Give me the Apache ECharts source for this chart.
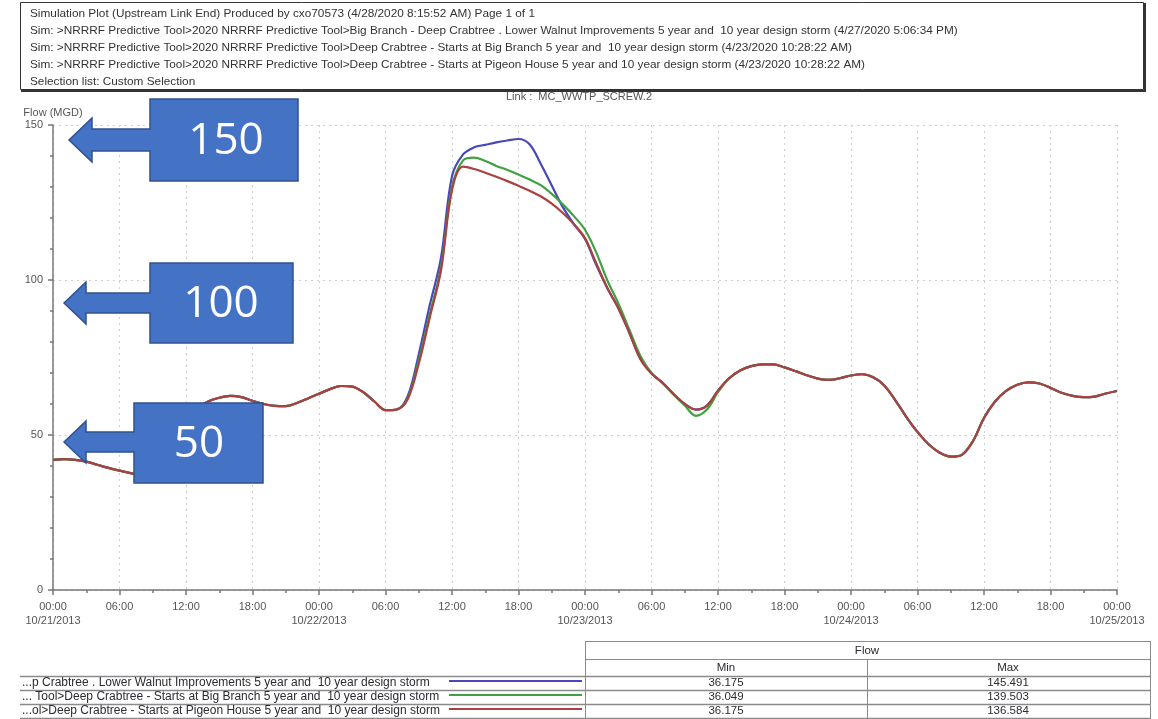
<!DOCTYPE html>
<html>
<head>
<meta charset="utf-8">
<script src="https://cdn.jsdelivr.net/npm/echarts@6/dist/echarts.min.js"></script>
<style>
  html, body { margin: 0; padding: 0; background: #ffffff; }
  #chart { width: 1158px; height: 719px; }
</style>
</head>
<body>
<div id="chart"></div>
<script>
// ---- report header ----
const headerLines = [
  'Simulation Plot (Upstream Link End) Produced by cxo70573 (4/28/2020 8:15:52 AM) Page 1 of 1',
  'Sim: >NRRRF Predictive Tool>2020 NRRRF Predictive Tool>Big Branch - Deep Crabtree . Lower Walnut Improvements 5 year and  10 year design storm (4/27/2020 5:06:34 PM)',
  'Sim: >NRRRF Predictive Tool>2020 NRRRF Predictive Tool>Deep Crabtree - Starts at Big Branch 5 year and  10 year design storm (4/23/2020 10:28:22 AM)',
  'Sim: >NRRRF Predictive Tool>2020 NRRRF Predictive Tool>Deep Crabtree - Starts at Pigeon House 5 year and 10 year design storm (4/23/2020 10:28:22 AM)',
  'Selection list: Custom Selection'
];
const linkTitle = 'Link :  MC_WWTP_SCREW.2';
const yAxisName = 'Flow (MGD)';

// ---- axis tick labels ----
const hourLabels = ['00:00', '06:00', '12:00', '18:00'];
const dayLabels = ['10/21/2013', '10/22/2013', '10/23/2013', '10/24/2013', '10/25/2013'];

// ---- series (hourly flow in MGD, 10/21/2013 00:00 through 10/25/2013 00:00) ----
const seriesNames = [
  '...p Crabtree . Lower Walnut Improvements 5 year and  10 year design storm',
  '... Tool>Deep Crabtree - Starts at Big Branch 5 year and  10 year design storm',
  '...ol>Deep Crabtree - Starts at Pigeon House 5 year and  10 year design storm'
];
const seriesColors = ['#4848bc', '#3ea23e', '#aa4040'];

const lowerWalnut = [
  42.0, 42.2, 42.0, 41.4, 40.4, 39.4, 38.5, 37.7, 36.8, 36.175,
  38.5, 45.0, 53.0, 58.5, 60.8, 62.0, 62.6, 62.2, 61.0, 60.0,
  59.4, 59.3, 60.3, 61.8, 63.3, 64.8, 65.8, 65.6, 63.8, 60.8,
  58.0, 58.2, 62.5, 76.0, 92.0, 107.0, 133.5, 140.5, 142.8, 143.6,
  144.4, 145.0, 145.491, 143.8, 137.5, 130.5, 123.5, 118.0, 113.2, 105.0,
  97.5, 91.0, 83.0, 74.5, 69.8, 66.8, 63.2, 60.0, 58.2, 59.5,
  64.3, 68.3, 70.8, 72.2, 72.8, 72.8, 71.8, 70.6, 69.3, 68.2,
  67.8, 68.3, 69.2, 69.6, 68.6, 66.0, 61.2, 55.8, 51.0, 47.0,
  44.3, 43.0, 43.6, 48.0, 55.5, 60.8, 64.2, 66.2, 67.0, 66.6,
  65.2, 63.6, 62.6, 62.2, 62.4, 63.4, 64.2
];
const bigBranch = [
  42.0, 42.2, 42.0, 41.4, 40.4, 39.4, 38.5, 37.7, 36.7, 36.049,
  38.4, 45.0, 53.0, 58.5, 60.8, 62.0, 62.6, 62.2, 61.0, 60.0,
  59.4, 59.3, 60.3, 61.8, 63.3, 64.8, 65.8, 65.6, 63.8, 60.8,
  58.0, 58.2, 61.8, 74.0, 89.0, 104.0, 130.0, 138.6, 139.503, 138.4,
  136.8, 135.5, 134.0, 132.4, 130.6, 127.8, 124.4, 120.6, 116.2, 109.0,
  100.0, 92.5, 84.0, 75.5, 70.0, 66.8, 63.0, 59.5, 56.2, 58.2,
  63.8, 68.2, 70.8, 72.2, 72.8, 72.8, 71.8, 70.6, 69.3, 68.2,
  67.8, 68.3, 69.2, 69.6, 68.6, 66.0, 61.2, 55.8, 51.0, 47.0,
  44.3, 43.0, 43.6, 48.0, 55.5, 60.8, 64.2, 66.2, 67.0, 66.6,
  65.2, 63.6, 62.6, 62.2, 62.4, 63.4, 64.2
];
const pigeonHouse = [
  42.0, 42.2, 42.0, 41.4, 40.4, 39.4, 38.5, 37.7, 36.8, 36.175,
  38.5, 45.0, 53.0, 58.5, 60.8, 62.0, 62.6, 62.2, 61.0, 60.0,
  59.4, 59.3, 60.3, 61.8, 63.3, 64.8, 65.8, 65.6, 63.8, 60.8,
  58.0, 58.2, 61.5, 73.0, 88.0, 103.0, 129.0, 136.584, 135.8, 134.6,
  133.3, 131.9, 130.4, 128.8, 127.0, 124.6, 121.6, 118.0, 113.5, 105.5,
  97.5, 91.0, 83.0, 74.5, 69.8, 66.8, 63.2, 60.0, 58.2, 59.5,
  64.3, 68.3, 70.8, 72.2, 72.8, 72.8, 71.8, 70.6, 69.3, 68.2,
  67.8, 68.3, 69.2, 69.6, 68.6, 66.0, 61.2, 55.8, 51.0, 47.0,
  44.3, 43.0, 43.6, 48.0, 55.5, 60.8, 64.2, 66.2, 67.0, 66.6,
  65.2, 63.6, 62.6, 62.2, 62.4, 63.4, 64.2
];
const seriesValues = [lowerWalnut, bigBranch, pigeonHouse];

// ---- annotation callouts ----
const calloutTexts = ['150', '100', '50'];

// ---------------------------------------------------------------------------
const FONT = '"Liberation Sans", "DejaVu Sans", sans-serif';
const TEXT_DARK = '#2b2b33';
const AXIS_GREY = '#777777';

const graphics = [];

// header frame with heavier bottom/right edge
graphics.push({
  type: 'rect', shape: { x: 20.5, y: 2.5, width: 1123, height: 87 },
  style: { fill: '#ffffff', stroke: '#333333', lineWidth: 1 }, z: 1
});
graphics.push({
  type: 'polyline', shape: { points: [[21, 91], [1145, 91], [1145, 3]] },
  style: { stroke: '#333333', lineWidth: 2, fill: null }, z: 1
});
headerLines.forEach((t, i) => {
  graphics.push({
    type: 'text', z: 2,
    style: { text: t, x: 30, y: 14 + i * 17, font: '11.8px ' + FONT, fill: '#333333',
             textAlign: 'left', textVerticalAlign: 'middle' }
  });
});

// left-pointing arrow callouts
function calloutPoints(tipX, tipY, headX, headHalf, shaftHalf, bx, by, bw, bh) {
  return [
    [tipX, tipY], [headX, tipY - headHalf], [headX, tipY - shaftHalf],
    [bx, tipY - shaftHalf], [bx, by], [bx + bw, by], [bx + bw, by + bh],
    [bx, by + bh], [bx, tipY + shaftHalf], [headX, tipY + shaftHalf],
    [headX, tipY + headHalf]
  ];
}
const calloutGeom = [
  { pts: calloutPoints(69, 140, 92, 22, 11, 150, 99, 148, 82), tx: 226, ty: 141 },
  { pts: calloutPoints(64, 303, 86, 21, 10, 150, 263, 143, 80), tx: 221, ty: 304 },
  { pts: calloutPoints(64, 442, 86, 21, 10, 134, 403, 129, 80), tx: 199, ty: 444 }
];
calloutGeom.forEach((g, i) => {
  graphics.push({
    type: 'polygon', z: 100, shape: { points: g.pts },
    style: { fill: '#4472c4', stroke: '#2f528f', lineWidth: 1.5 }
  });
  graphics.push({
    type: 'text', z: 101,
    style: { text: calloutTexts[i], x: g.tx, y: g.ty, font: '44px "Open Sans", ' + FONT,
             fill: '#ffffff', textAlign: 'center', textVerticalAlign: 'middle' }
  });
});

// summary table (series key + min / max flow)
const tblLine = '#8a8a8a';
const rowTop = [676, 690, 704];
const hLine = (x1, y, x2, w) => graphics.push({
  type: 'line', z: 3, shape: { x1: x1, y1: y + 0.5, x2: x2, y2: y + 0.5 },
  style: { stroke: tblLine, lineWidth: w || 1 }
});
const vLine = (x, y1, y2) => graphics.push({
  type: 'line', z: 3, shape: { x1: x + 0.5, y1: y1, x2: x + 0.5, y2: y2 },
  style: { stroke: tblLine, lineWidth: 1 }
});
hLine(585, 641, 1150, 1);
hLine(585, 659, 1150, 1);
[676, 690, 704, 718].forEach(y => hLine(20, y, 1150, 1.5));
vLine(585, 641, 719);
vLine(1150, 641, 719);
vLine(867, 659, 719);
const tableText = (t, x, y, align, size) => graphics.push({
  type: 'text', z: 4,
  style: { text: t, x: x, y: y, font: (size || 11.5) + 'px ' + FONT, fill: TEXT_DARK,
           textAlign: align, textVerticalAlign: 'middle' }
});
tableText('Flow', 867, 651, 'center');
tableText('Min', 726, 668, 'center');
tableText('Max', 1008, 668, 'center');
seriesValues.forEach((vals, i) => {
  const yc = rowTop[i] + 7;
  tableText(seriesNames[i], 22, yc, 'left', 12);
  graphics.push({
    type: 'line', z: 4, shape: { x1: 449, y1: yc - 2, x2: 582, y2: yc - 2 },
    style: { stroke: seriesColors[i], lineWidth: 2 }
  });
  tableText(Math.min(...vals).toFixed(3), 726, yc, 'center');
  tableText(Math.max(...vals).toFixed(3), 1008, yc, 'center');
});

// ---------------------------------------------------------------------------
const chart = echarts.init(document.getElementById('chart'), null, { renderer: 'canvas' });

const option = {
  backgroundColor: '#ffffff',
  animation: false,
  title: {
    text: linkTitle,
    left: 'center',
    top: 91,
    padding: [0, 0, 0, 10],
    textStyle: { fontFamily: FONT, fontSize: 11, fontWeight: 'normal', color: '#555555' }
  },
  grid: { left: 53, right: 41, top: 125, bottom: 129, outerBoundsMode: 'none', containLabel: false },
  xAxis: {
    type: 'value',
    min: 0, max: 96, interval: 6,
    axisLine: { show: true, lineStyle: { color: AXIS_GREY, width: 1.5 } },
    axisTick: { show: true, length: 5, lineStyle: { color: AXIS_GREY, width: 1.5 } },
    minorTick: { show: true, splitNumber: 2, length: 3, lineStyle: { color: AXIS_GREY, width: 1.5 } },
    splitLine: { show: true, lineStyle: { color: '#cfcfcf', type: [2, 4], width: 1 } },
    minorSplitLine: { show: false },
    axisLabel: {
      margin: 10, color: '#555555', fontFamily: FONT, fontSize: 11, lineHeight: 14,
      showMinLabel: true, showMaxLabel: true,
      formatter: v => {
        const h = v % 24;
        const label = hourLabels[h / 6];
        return h === 0 ? label + '\n' + dayLabels[v / 24] : label;
      }
    }
  },
  yAxis: {
    type: 'value',
    min: 0, max: 150, interval: 50,
    name: yAxisName,
    nameLocation: 'end',
    nameGap: 7,
    nameTextStyle: { fontFamily: FONT, fontSize: 11, color: '#555555' },
    axisLine: { show: true, lineStyle: { color: AXIS_GREY, width: 1.5 } },
    axisTick: { show: true, length: 5, lineStyle: { color: AXIS_GREY, width: 1.5 } },
    minorTick: { show: true, splitNumber: 5, length: 3, lineStyle: { color: AXIS_GREY, width: 1.5 } },
    splitLine: { show: true, lineStyle: { color: '#cfcfcf', type: [2, 4], width: 1 } },
    minorSplitLine: { show: false },
    axisLabel: { margin: 10, color: '#555555', fontFamily: FONT, fontSize: 11 }
  },
  series: seriesValues.map((vals, i) => ({
    name: seriesNames[i],
    type: 'line',
    data: vals.map((v, h) => [h, v]),
    smooth: 0.35,
    showSymbol: false,
    symbol: 'none',
    z: 2 + i,
    lineStyle: { color: seriesColors[i], width: 2.2 },
    itemStyle: { color: seriesColors[i] }
  })),
  graphic: { elements: graphics }
};

chart.setOption(option);
</script>
</body>
</html>
